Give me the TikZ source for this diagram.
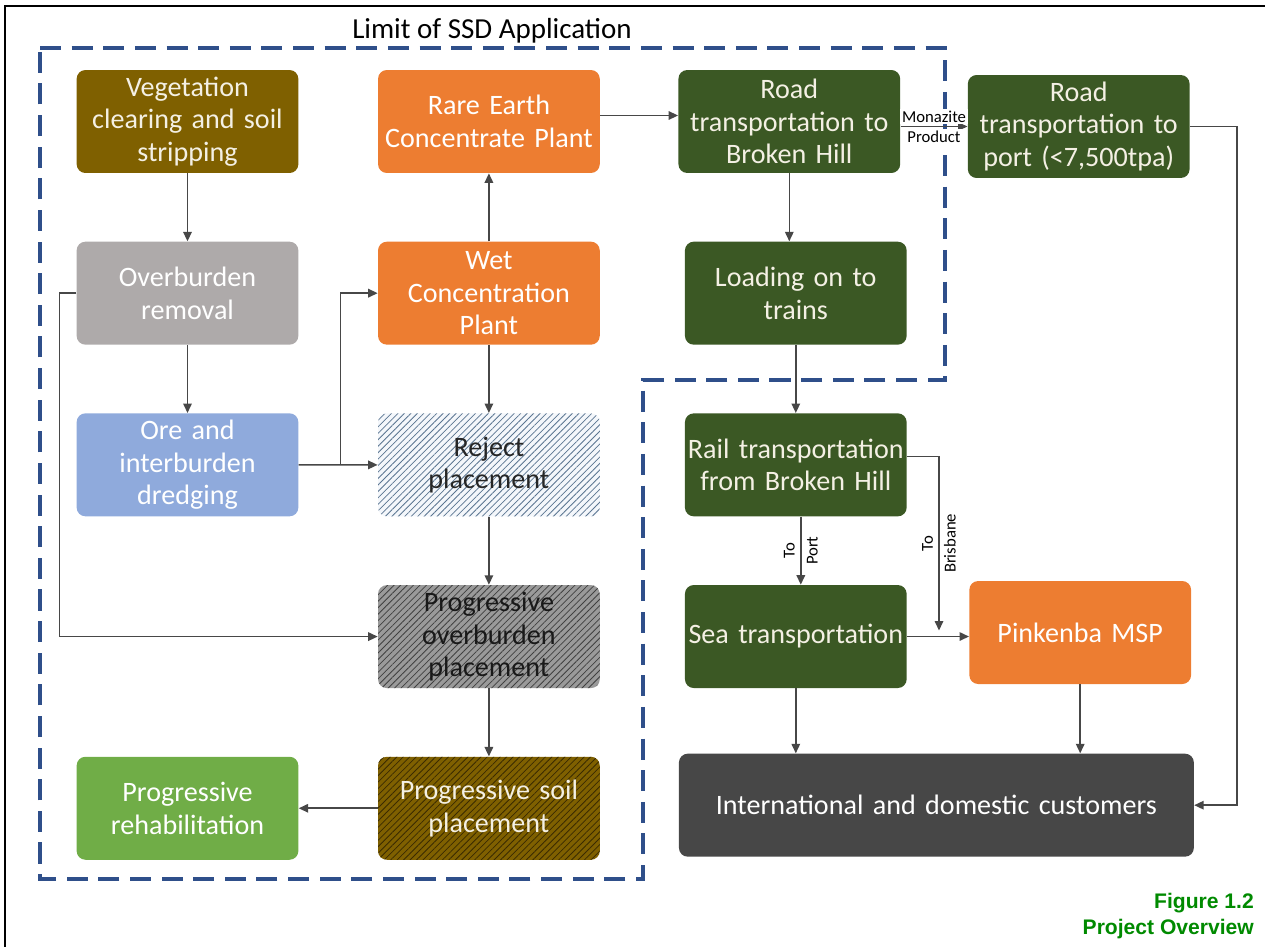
\documentclass[tikz,border=0pt]{standalone}
\usepackage{fontspec}
\setmainfont{Carlito}
\newfontfamily\capfont{Liberation Sans}
\usepackage{tikz}
\usetikzlibrary{positioning,arrows.meta,patterns.meta}

\definecolor{vegbrown}{HTML}{7F6000}
\definecolor{overgray}{HTML}{AEAAAA}
\definecolor{oreblue}{HTML}{8FAADC}
\definecolor{rehabgreen}{HTML}{70AD47}
\definecolor{plantorange}{HTML}{ED7D31}
\definecolor{transgreen}{HTML}{3B5824}
\definecolor{custgray}{HTML}{474747}
\definecolor{limitblue}{HTML}{2F4F8A}
\definecolor{linkgray}{HTML}{474747}
\definecolor{boxtext}{HTML}{F4F0E4}
\definecolor{capgreen}{HTML}{008A00}
\definecolor{rejectbg}{HTML}{F4F7FB}
\definecolor{rejectline}{HTML}{5A7591}
\definecolor{ovbbg}{HTML}{9A9A9A}
\definecolor{ovbline}{HTML}{404040}
\definecolor{soilbg}{HTML}{7F6000}
\definecolor{soilline}{HTML}{3A2B00}

\begin{document}
\hyphenpenalty=10000
\exhyphenpenalty=10000
\begin{tikzpicture}[x=0.02cm, y=-0.02cm, font=\fontsize{16}{18.5}\selectfont,
  node distance=1.36cm and 1.58cm,
  box/.style={rounded corners=5pt, align=center, minimum width=4.42cm, minimum height=2.06cm,
    text width=4.4cm, inner sep=0.5pt, text=boxtext},
  hatch/.style={box, preaction={fill=#1}, pattern={Lines[angle=45,distance=2.6pt,line width=0.45pt]}},
  arr/.style={draw=linkgray, line width=0.9pt, -{Triangle[length=1.9mm,width=1.7mm]}},
  small/.style={font=\fontsize{9.5}{13}\selectfont, text=black, inner sep=1pt}]
\useasboundingbox (0,0) rectangle (1265,947);
% frame and limit of application
\draw[line width=1.2pt] (5,947) -- (5,6) -- (1265,6);
\draw[limitblue, line width=2.3pt, dash pattern=on 12pt off 6pt]
  (40,48) -- (945,48) -- (945,380) -- (643,380) -- (643,879) -- (40,879) -- cycle;
\node[font=\fontsize{16.5}{18}\selectfont] (limit) at (492,31) {Limit of SSD Application};

% mine site
\node[box, fill=vegbrown] (veg) at (187.5,121.5) {Vegetation\\clearing and soil\\stripping};
\node[box, fill=overgray, text=white, below=of veg] (over) {Overburden\\removal};
\node[box, fill=oreblue, text=white, below=of over] (ore) {Ore and\\interburden\\dredging};
\node[box, fill=plantorange, text=white, right=of veg] (rare) {Rare Earth\\Concentrate Plant};
\node[box, fill=plantorange, text=white, below=of rare] (wet) {Wet\\Concentration\\Plant};
\node[hatch=rejectbg, pattern color=rejectline, text=black!85, below=of wet] (reject) {Reject\\placement};
\node[hatch=ovbbg, pattern color=ovbline, text=black!90, below=of reject] (povb) {Progressive\\overburden\\placement};
\node[hatch=soilbg, pattern color=soilline, below=of povb] (soil) {Progressive soil\\placement};
\node[box, fill=rehabgreen, text=white, left=of soil] (rehab) {Progressive\\rehabilitation};

% transport
\node[box, fill=transgreen, right=1.56cm of rare] (roadbh) {Road\\transportation to\\Broken Hill};
\node[box, fill=transgreen, below=of roadbh, xshift=0.13cm] (load) {Loading on to\\trains};
\node[box, fill=transgreen, below=of load] (rail) {Rail transportation\\from Broken Hill};
\node[box, fill=transgreen, below=of rail] (sea) {Sea transportation};
\node[box, fill=transgreen, right=1.34cm of roadbh, yshift=-0.1cm] (port) {Road\\transportation to\\port (<7,500tpa)};
\node[box, fill=plantorange, text=white, right=1.24cm of sea, yshift=0.08cm] (pink) {Pinkenba MSP};
\node[box, fill=custgray, text=white, minimum width=10.3cm, text width=10cm,
  below right=1.3cm and -0.12cm of sea.south west] (cust) {International and domestic customers};
\coordinate (brisend) at ([xshift=0.64cm, yshift=0.12cm]sea.east);

\node[font=\capfont\bfseries\fontsize{12}{15}\selectfont, text=capgreen, align=right,
  anchor=north east] (caption) at (1260,887) {Figure 1.2\\Project Overview};

% flows
\draw[arr] (veg) -- (over);
\draw[arr] (over) -- (ore);
\draw[arr] (over.west) -- ++(-0.34cm,0) |- (povb.west);
\draw[arr] (ore.east) -- (reject.west);
\draw[arr] ([xshift=0.84cm]ore.east) |- (wet.west);
\draw[arr] (wet) -- (rare);
\draw[arr] (wet) -- (reject);
\draw[arr] (reject) -- (povb);
\draw[arr] (povb) -- (soil);
\draw[arr] (soil) -- (rehab);
\draw[arr] ([yshift=0.12cm]rare.east) -- ([yshift=0.12cm]roadbh.west);
\draw[arr] (port.west -| roadbh.east) -- node[small, above=0.8pt, fill=white]{Monazite}
  node[small, below=0.8pt, fill=white]{Product} (port.west);
\draw[arr] (roadbh.south) -- (roadbh.south |- load.north);
\draw[arr] (load) -- (rail);
\draw[arr] ([xshift=0.1cm]rail.south) -- node[small, rotate=90, align=center]{To\\Port} ([xshift=0.1cm]sea.north);
\draw[arr] ([yshift=0.17cm]rail.east) -| node[pos=0.75, small, rotate=90, align=center]{To\\Brisbane} (brisend);
\draw[arr] (sea.east) -- (sea.east -| pink.west);
\draw[arr] (sea.south) -- (sea.south |- cust.north);
\draw[arr] (pink.south) -- (pink.south |- cust.north);
\draw[arr] (port.east) -- ++(0.94cm,0) |- (cust.east);
\end{tikzpicture}
\end{document}
